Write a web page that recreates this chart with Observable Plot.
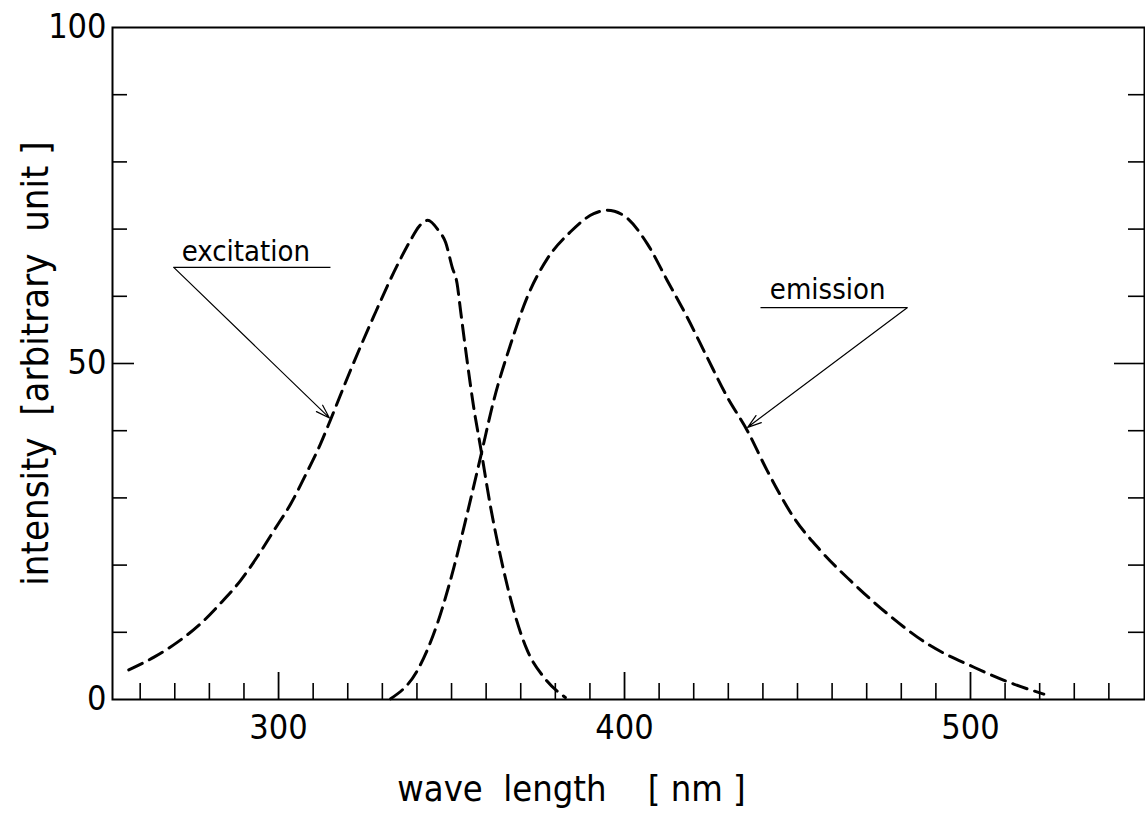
<!DOCTYPE html>
<html>
<head>
<meta charset="utf-8">
<script src="https://cdn.jsdelivr.net/npm/d3@7"></script>
<script src="https://cdn.jsdelivr.net/npm/@observablehq/plot@0.6"></script>
<style>
  html, body { margin: 0; padding: 0; background: #fff; }
  #chart svg { display: block; }
</style>
</head>
<body>
<div id="chart"></div>
<script>
// ---- data ----
const excitationX = [256.7, 264.0, 270.7, 277.5, 283.2, 289.0, 293.8, 298.6, 303.5, 307.8, 312.1, 315.0, 320.8, 327.5, 334.3, 338.2, 340.6, 343.1, 346.2, 348.3, 350.2, 351.6, 352.6, 354.5, 356.4, 358.4, 361.3, 364.2, 368.0, 371.9, 376.7, 382.9];
const excitationY = [4.4, 6.3, 8.5, 11.3, 14.3, 17.7, 21.2, 25.1, 29.1, 33.4, 38.0, 41.6, 49.0, 57.0, 64.6, 68.4, 70.4, 71.3, 69.8, 68.0, 64.3, 61.9, 57.9, 50.4, 43.5, 37.5, 28.6, 21.2, 13.2, 7.3, 3.3, 0.3];

const emissionX = [332.4, 340.1, 345.9, 350.7, 354.5, 358.4, 362.2, 367.1, 371.9, 377.7, 384.4, 391.1, 395.0, 399.8, 406.6, 412.3, 418.1, 423.9, 429.7, 435.5, 441.2, 448.9, 456.6, 466.3, 475.9, 487.5, 501.0, 512.5, 521.2];
const emissionY = [0.1, 4.3, 11.3, 19.7, 27.6, 36.1, 44.5, 52.9, 59.9, 65.6, 69.6, 72.3, 72.8, 72.0, 67.8, 62.4, 56.9, 50.9, 45.0, 40.0, 34.1, 27.1, 22.2, 17.2, 12.8, 8.3, 4.8, 2.3, 0.8];

const xMinorTicks = [260, 270, 280, 290, 310, 320, 330, 340, 350, 360, 370, 380, 390, 410, 420, 430, 440, 450, 460, 470, 480, 490, 510, 520, 530, 540];
const xMajorTicks = [300, 400, 500];
const yMinorTicks = [10, 20, 30, 40, 60, 70, 80, 90];
const yMajorTicks = [50];
const yTickLabels = [0, 50, 100];

const annotationNames = ["excitation", "emission"];
const annotationTextX = [272.0, 442.0];
const annotationTextY = [65.3, 59.6];
const underlineX1 = [269.7, 439.3];
const underlineX2 = [315.0, 481.7];
const underlineY = [64.3, 58.3];
const arrowFromX = [269.7, 481.7];
const arrowFromY = [64.3, 58.3];
const arrowToX = [314.7, 435.6];
const arrowToY = [41.9, 40.5];

const xTitle = "wave\u00a0\u00a0length\u00a0\u00a0\u00a0\u00a0[ nm ]";
const yTitle = "intensity\u00a0\u00a0[arbitrary\u00a0\u00a0unit ]";

// ---- layout ----
const W = 1145, H = 815;
const mL = 112, mR = 1, mT = 27, mB = 116;
const innerW = W - mL - mR, innerH = H - mT - mB;
const FONT = "'DejaVu Sans Condensed', 'DejaVu Sans', sans-serif";

const excitation = excitationX.map((x, i) => ({x, y: excitationY[i]}));
const emission = emissionX.map((x, i) => ({x, y: emissionY[i]}));
const notes = annotationNames.map((name, i) => ({
  name, tx: annotationTextX[i], ty: annotationTextY[i],
  ux1: underlineX1[i], ux2: underlineX2[i], uy: underlineY[i],
  ax1: arrowFromX[i], ay1: arrowFromY[i], ax2: arrowToX[i], ay2: arrowToY[i]
}));

const chart = Plot.plot({
  width: W, height: H,
  marginLeft: mL, marginRight: mR, marginTop: mT, marginBottom: mB,
  style: {fontFamily: FONT, background: "#fff", color: "#000"},
  x: {domain: [252, 550.3], axis: null},
  y: {domain: [0, 100], axis: null},
  marks: [
    // inward ticks on bottom
    Plot.tickX(xMinorTicks, {x: d => d, insetTop: innerH - 16, stroke: "#000", strokeWidth: 1.6}),
    Plot.tickX(xMajorTicks, {x: d => d, insetTop: innerH - 27, stroke: "#000", strokeWidth: 1.8}),
    // inward ticks on left
    Plot.tickY(yMinorTicks, {y: d => d, insetRight: innerW - 15, stroke: "#000", strokeWidth: 1.6}),
    Plot.tickY(yMajorTicks, {y: d => d, insetRight: innerW - 22, stroke: "#000", strokeWidth: 1.6}),
    // inward ticks on right
    Plot.tickY(yMinorTicks, {y: d => d, insetLeft: innerW - 16, stroke: "#000", strokeWidth: 1.6}),
    Plot.tickY(yMajorTicks, {y: d => d, insetLeft: innerW - 30, stroke: "#000", strokeWidth: 1.6}),
    Plot.frame({stroke: "#000", strokeWidth: 2}),
    // tick labels
    Plot.axisX(xMajorTicks, {tickSize: 0, tickPadding: 15, fontSize: 34, label: null, tickFormat: d => String(d)}),
    Plot.axisY(yTickLabels, {tickSize: 0, tickPadding: 6, fontSize: 34, label: null, tickFormat: d => String(d)}),
    // curves
    Plot.line(excitation, {x: "x", y: "y", curve: "monotone-x", stroke: "#000", strokeWidth: 3, strokeDasharray: "15,8"}),
    Plot.line(emission, {x: "x", y: "y", curve: "monotone-x", stroke: "#000", strokeWidth: 3, strokeDasharray: "15,8"}),
    // annotations
    Plot.link(notes, {x1: "ux1", x2: "ux2", y1: "uy", y2: "uy", stroke: "#000", strokeWidth: 1.3}),
    Plot.arrow(notes, {x1: "ax1", y1: "ay1", x2: "ax2", y2: "ay2", stroke: "#000", strokeWidth: 1.2, headLength: 18, headAngle: 36}),
    Plot.text(notes, {x: "tx", y: "ty", text: "name", textAnchor: "start", lineAnchor: "bottom", fontSize: 29, fill: "#000"}),
    // axis titles
    Plot.text([xTitle], {frameAnchor: "bottom", text: d => d, dx: -57, dy: 101, textAnchor: "middle", lineAnchor: "bottom", fontSize: 36, fill: "#000"}),
    Plot.text([yTitle], {frameAnchor: "left", text: d => d, dx: -77, rotate: -90, textAnchor: "middle", lineAnchor: "middle", fontSize: 38, fill: "#000"})
  ]
});
document.getElementById("chart").appendChild(chart);
</script>
</body>
</html>
